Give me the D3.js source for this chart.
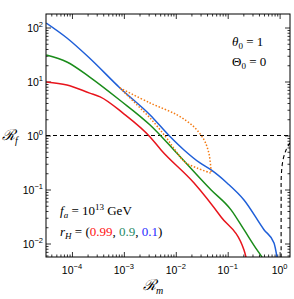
<!DOCTYPE html>
<html>
<head>
<meta charset="utf-8">
<script src="https://cdn.jsdelivr.net/npm/d3@7"></script>
<style>
  body { margin: 0; background: #fff; }
  svg { display: block; }
</style>
</head>
<body>
<div id="main"></div>
<script>
// curves: R_m (x) and R_f (y)
var mBlue = [3.2e-5, 8e-5, 2.2e-4, 8.4e-4, 3.2e-3, 7.4e-3, 0.0144, 0.0293, 0.048, 0.097, 0.206, 0.50, 0.78, 0.89];
var fBlue = [121, 64, 27, 7.6, 2.4, 1.0, 0.54, 0.31, 0.23, 0.132, 0.064, 0.018, 0.0102, 0.0056];
var mGreen = [3.2e-5, 8e-5, 2.2e-4, 8.4e-4, 3.2e-3, 9.2e-3, 0.048, 0.116, 0.206, 0.367, 0.46];
var fGreen = [31, 23, 12.1, 4.5, 1.56, 0.54, 0.098, 0.042, 0.018, 0.0076, 0.0056];
var mRed = [3.2e-5, 8e-5, 2.2e-4, 3.5e-4, 9.6e-4, 3.2e-3, 5.2e-3, 0.0225, 0.0745, 0.206, 0.225];
var fRed = [9.8, 8.6, 6.1, 5.2, 2.6, 0.94, 0.54, 0.132, 0.031, 0.0076, 0.0056];
var mOrangeUp = [8.4e-4, 3.2e-3, 0.0106, 0.0225, 0.035, 0.0418, 0.0457, 0.048];
var fOrangeUp = [7.6, 4.0, 2.4, 1.44, 0.83, 0.54, 0.35, 0.20];
var mOrangeLo = [8.4e-4, 1.64e-3, 3.2e-3, 6.2e-3, 9.7e-3, 0.0151, 0.0257, 0.048];
var fOrangeLo = [7.6, 4.0, 2.1, 0.98, 0.54, 0.32, 0.25, 0.20];
var mEdge = [1.07, 1.07, 1.08, 1.16, 1.33, 1.58];
var fEdge = [0.0056, 0.064, 0.186, 0.35, 0.54, 0.73];
var xMajor = [-4, -3, -2, -1, 0];
var yMajor = [-2, -1, 0, 1, 2];
var rHValues = ['0.99', '0.9', '0.1'];

var W = 294, H = 299;
var margins = { top: 14, bottom: 42, left: 46, right: 4 };
var width = W - margins.left - margins.right, height = H - margins.top - margins.bottom;

var x = d3.scaleLog().domain([Math.pow(10, -4.5), Math.pow(10, 0.2)]).range([0, width]);
var y = d3.scaleLog().domain([Math.pow(10, -2.25), Math.pow(10, 2.25)]).range([height, 0]);

var minorTicks = function(lo, hi) {
    var out = [];
    for (var e = lo; e <= hi; e++) {
        for (var k = 2; k <= 9; k++) out.push(k * Math.pow(10, e));
    }
    return out;
};
var xMinor = minorTicks(-5, 0).filter(function(v) { return v > x.domain()[0] && v < x.domain()[1]; });
var yMinor = minorTicks(-3, 2).filter(function(v) { return v > y.domain()[0] && v < y.domain()[1]; });
var xMaj = xMajor.map(function(e) { return Math.pow(10, e); });
var yMaj = yMajor.map(function(e) { return Math.pow(10, e); });

var svg = d3.select('#main').append('svg').attr('width', W).attr('height', H);
svg.append('defs').append('clipPath').attr('id', 'clip')
    .append('rect').attr('width', width).attr('height', height);

var chart = svg.append('g').attr('transform', 'translate(' + margins.left + ',' + margins.top + ')');

var addAxis = function(axisFn, scale, vals, size, transform) {
    chart.append('g')
        .attr('transform', transform)
        .call(axisFn(scale).tickValues(vals).tickSize(-size).tickFormat(''))
        .call(function(g) { g.select('.domain').remove(); })
        .selectAll('line').attr('stroke', '#000').attr('stroke-width', 0.8);
};
addAxis(d3.axisBottom, x, xMaj, 5, 'translate(0,' + height + ')');
addAxis(d3.axisBottom, x, xMinor, 2.5, 'translate(0,' + height + ')');
addAxis(d3.axisTop, x, xMaj, 5, 'translate(0,0)');
addAxis(d3.axisTop, x, xMinor, 2.5, 'translate(0,0)');
addAxis(d3.axisLeft, y, yMaj, 5, 'translate(0,0)');
addAxis(d3.axisLeft, y, yMinor, 2.5, 'translate(0,0)');
addAxis(d3.axisRight, y, yMaj, 5, 'translate(' + width + ',0)');
addAxis(d3.axisRight, y, yMinor, 2.5, 'translate(' + width + ',0)');

// tick labels with superscripts
var tickFont = '"Liberation Sans", Arial, sans-serif';
var expText = function(e) { return e < 0 ? '\u2212' + (-e) : String(e); };
xMajor.forEach(function(e) {
    var t = chart.append('text')
        .attr('x', x(Math.pow(10, e)))
        .attr('y', height + 17)
        .attr('text-anchor', 'middle')
        .style('font-family', tickFont).style('font-size', '10.5px');
    t.append('tspan').text('10');
    t.append('tspan').attr('dy', -5).style('font-size', '7.5px').text(expText(e));
});
yMajor.forEach(function(e) {
    var t = chart.append('text')
        .attr('x', -3)
        .attr('y', y(Math.pow(10, e)) + 4)
        .attr('text-anchor', 'end')
        .style('font-family', tickFont).style('font-size', '10.5px');
    t.append('tspan').text('10');
    t.append('tspan').attr('dy', -5).style('font-size', '7.5px').text(expText(e));
});

var plot = chart.append('g').attr('clip-path', 'url(#clip)');

// reference lines
plot.append('line')
    .attr('x1', 0).attr('x2', width)
    .attr('y1', y(1)).attr('y2', y(1))
    .attr('stroke', '#000').attr('stroke-width', 1.1)
    .attr('stroke-dasharray', '4,3');

var lineCR = d3.line()
    .x(function(d) { return x(d[0]); })
    .y(function(d) { return y(d[1]); })
    .curve(d3.curveCatmullRom);
var lineMono = d3.line()
    .x(function(d) { return x(d[0]); })
    .y(function(d) { return y(d[1]); })
    .curve(d3.curveMonotoneX);
var zip = function(a, b) { return a.map(function(v, i) { return [v, b[i]]; }); };

plot.append('path').datum(zip(mEdge, fEdge))
    .attr('d', lineCR).attr('fill', 'none')
    .attr('stroke', '#000').attr('stroke-width', 1.1)
    .attr('stroke-dasharray', '4,3');

var series = [
    { m: mRed, f: fRed, color: '#e8141c' },
    { m: mGreen, f: fGreen, color: '#1a8c1a' },
    { m: mBlue, f: fBlue, color: '#1f5fd8' }
];
series.forEach(function(s) {
    plot.append('path').datum(zip(s.m, s.f))
        .attr('d', lineMono).attr('fill', 'none')
        .attr('stroke', s.color).attr('stroke-width', 1.5);
});

[[mOrangeUp, fOrangeUp], [mOrangeLo, fOrangeLo]].forEach(function(p) {
    plot.append('path').datum(zip(p[0], p[1]))
        .attr('d', lineCR).attr('fill', 'none')
        .attr('stroke', '#f47a12').attr('stroke-width', 1.5)
        .attr('stroke-dasharray', '1.5,1.8');
});

// frame
chart.append('rect').attr('width', width).attr('height', height)
    .attr('fill', 'none').attr('stroke', '#000').attr('stroke-width', 1);

// annotations
var serif = '"Liberation Serif", "Times New Roman", serif';
var addLabel = function(px, py, parts, size) {
    var t = svg.append('text').attr('x', px).attr('y', py)
        .style('font-family', serif).style('font-size', (size || 13) + 'px');
    parts.forEach(function(p) {
        var s = t.append('tspan').text(p.t);
        if (p.i) s.style('font-style', 'italic');
        if (p.dy) s.attr('dy', p.dy);
        if (p.fs) s.style('font-size', p.fs + 'px');
        if (p.c) s.attr('fill', p.c);
    });
    return t;
};
addLabel(232, 46, [{ t: '\u03b8', i: true }, { t: '0', dy: 3, fs: 9 }, { t: ' = 1', dy: -3 }]);
addLabel(232, 66, [{ t: '\u0398' }, { t: '0', dy: 3, fs: 9 }, { t: ' = 0', dy: -3 }]);
addLabel(60, 215, [{ t: 'f', i: true }, { t: 'a', i: true, dy: 3, fs: 9 }, { t: ' = 10', dy: -3 },
    { t: '13', dy: -5, fs: 9 }, { t: ' GeV', dy: 5 }]);
addLabel(60, 236, [{ t: 'r', i: true }, { t: 'H', i: true, dy: 3, fs: 9 }, { t: ' = (', dy: -3 },
    { t: rHValues[0], c: '#ff1010' }, { t: ', ' }, { t: rHValues[1], c: '#1f8a66' }, { t: ', ' },
    { t: rHValues[2], c: '#2a2aff' }, { t: ')' }]);

// axis titles
addLabel(2, 140, [{ t: '\u211b', i: true }, { t: 'f', i: true, dy: 4, fs: 10 }], 15);
addLabel(143, 290, [{ t: '\u211b', i: true }, { t: 'm', i: true, dy: 4, fs: 10 }], 15);
</script>
</body>
</html>
